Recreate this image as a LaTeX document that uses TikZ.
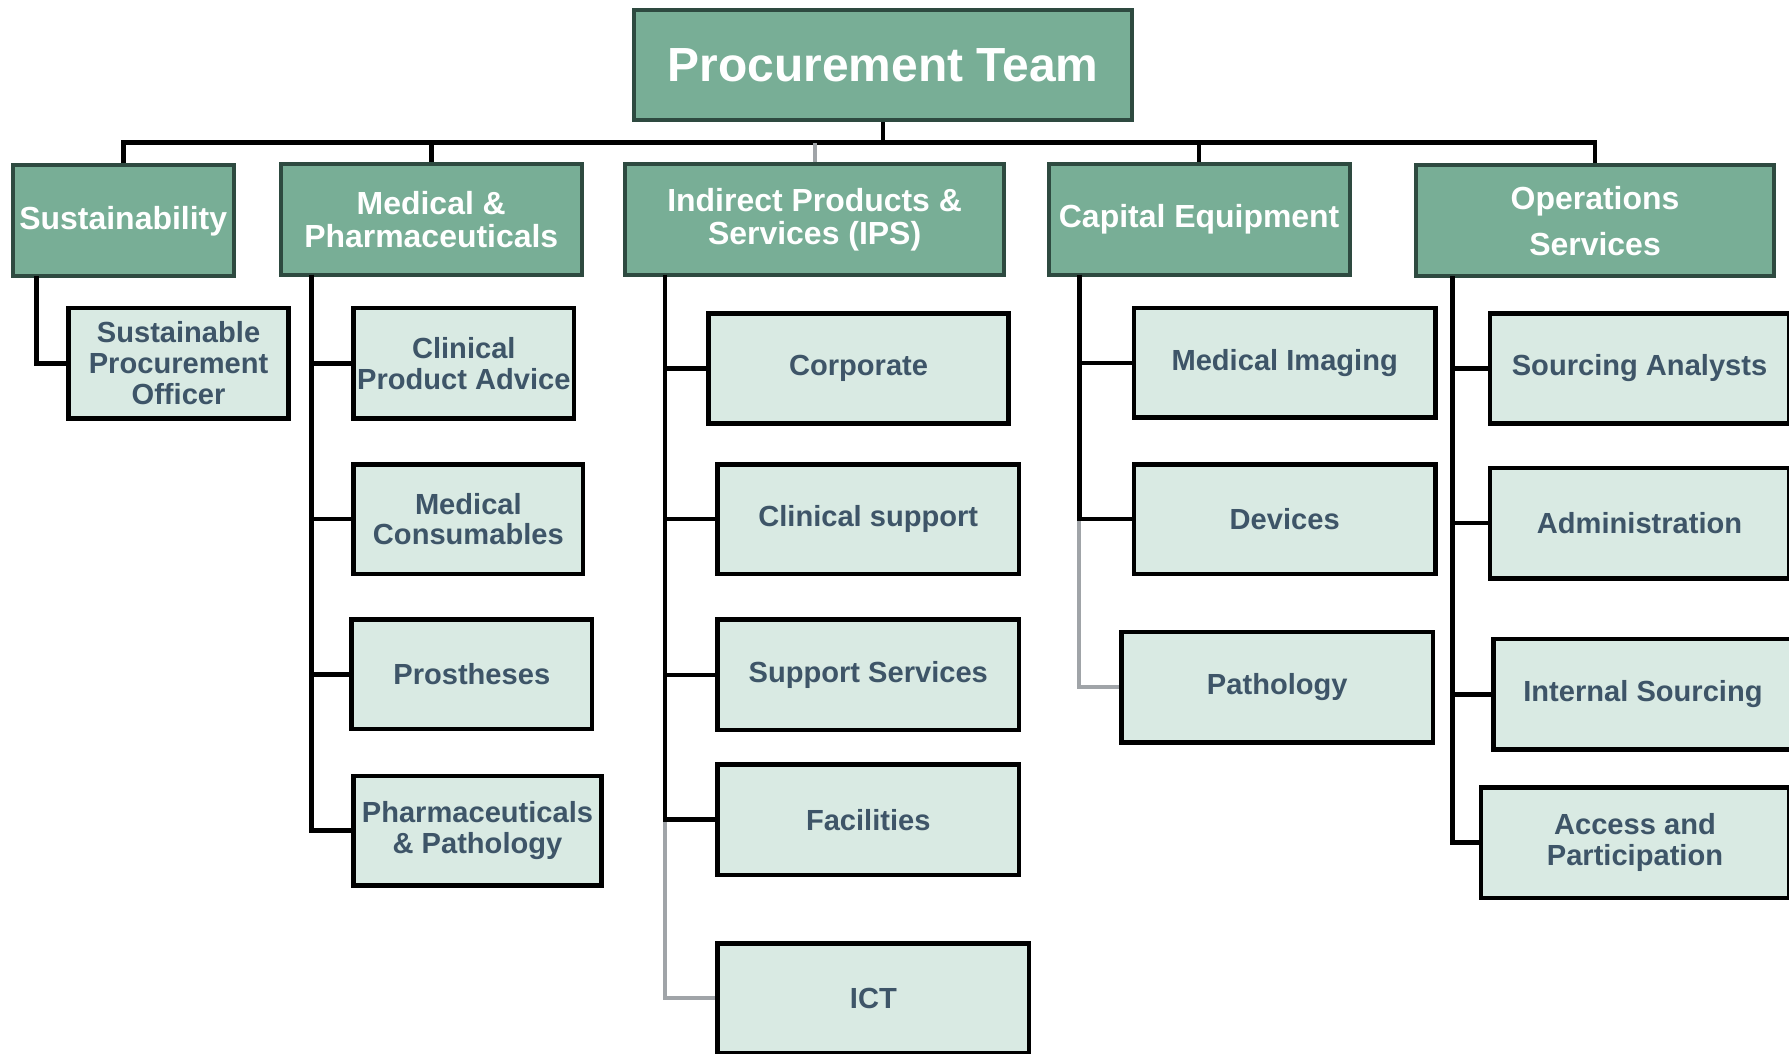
\documentclass[tikz,border=0pt]{standalone}
\usepackage{fontspec}
\setmainfont{Liberation Sans}
\usepackage{tikz}
\usetikzlibrary{positioning}

\definecolor{teamgreen}{HTML}{78AE96}
\definecolor{teamedge}{HTML}{2E4A40}
\definecolor{unitfill}{HTML}{D9EAE3}
\definecolor{unittext}{HTML}{3E5568}
\definecolor{linkgrey}{HTML}{A0A4A8}

\tikzset{
	teambox/.style={draw=teamedge, fill=teamgreen, line width=3.5pt, text=white, inner sep=0pt,
		font=\fontsize{42}{44}\selectfont\bfseries},
	headbox/.style={draw=teamedge, fill=teamgreen, line width=3.5pt, text=white, inner sep=0pt,
		align=center, font=\fontsize{28}{29}\selectfont\bfseries},
	unitbox/.style={draw=black, fill=unitfill, line width=4pt, text=unittext, inner sep=0pt,
		align=center, font=\fontsize{25.5}{27}\selectfont\bfseries},
	link/.style={draw=black, line width=4pt},
	greylink/.style={draw=linkgrey, line width=3.5pt}
}

\begin{document}
\begin{tikzpicture}[x=1pt, y=-1pt]
	\useasboundingbox (0,0) rectangle (1568,923);

	% top
	\node[teambox, minimum width=436, minimum height=96] (team) at (774,57) {Procurement Team};

	% second row
	\node[headbox, minimum width=194, minimum height=97] (sus) at (108,193.5) {Sustainability};
	\node[headbox, minimum width=264, minimum height=97] (med) at (378,192.5) {Medical \&\\Pharmaceuticals};
	\node[headbox, minimum width=332, minimum height=97] (ips) at (714,192.5) {Indirect Products \&\\Services (IPS)};
	\node[headbox, minimum width=264, minimum height=97] (cap) at (1051,192.5) {Capital Equipment};
	\node[headbox, minimum width=314, minimum height=97] (ops) at (1398,193.5) {Operations\\[11pt]Services};

	\coordinate (bus) at (774,125);
	\draw[link] (team.south) -- (bus);
	\draw[link] (sus.north) |- (bus) -| (ops.north);
	\draw[link, line width=5pt] (med.north |- bus) -- (cap.north |- bus);
	\draw[link] (med.north) -- (med.north |- bus);
	\draw[link] (cap.north) -- (cap.north |- bus);
	\draw[greylink] (ips.north) -- (ips.north |- bus);

	% Sustainability
	\node[unitbox, minimum width=193, minimum height=97] (spo) at (156.5,318.5) {Sustainable\\Procurement\\Officer};
	\coordinate (susS) at (32,242);
	\draw[link] (susS) |- (spo.west);

	% Medical & Pharmaceuticals
	\node[unitbox, minimum width=193, minimum height=97] (cpa) at (406.5,318.5) {Clinical\\Product Advice};
	\node[unitbox, minimum width=201, minimum height=96] (mcon) at (410.5,455) {Medical\\Consumables};
	\node[unitbox, minimum width=211, minimum height=96] (pros) at (413.5,591) {Prostheses};
	\node[unitbox, minimum width=217, minimum height=96] (pharm) at (418.5,728) {Pharmaceuticals\\\& Pathology};
	\coordinate (medS) at (273,241);
	\draw[link] (medS) |- (cpa.west);
	\draw[link] (medS) |- (mcon.west);
	\draw[link] (medS) |- (pros.west);
	\draw[link] (medS) |- (pharm.west);

	% IPS
	\node[unitbox, minimum width=263, minimum height=96] (corp) at (752.5,323) {Corporate};
	\node[unitbox, minimum width=264, minimum height=96] (clin) at (761,455) {Clinical support};
	\node[unitbox, minimum width=264, minimum height=97] (supp) at (761,591.5) {Support Services};
	\node[unitbox, minimum width=264, minimum height=97] (fac) at (761,718.5) {Facilities};
	\node[unitbox, minimum width=273, minimum height=96] (ict) at (765.5,875) {ICT};
	\coordinate (ipsS) at (583,241);
	\draw[greylink] (ipsS |- fac.west) |- (ict.west);
	\draw[link] (ipsS) |- (corp.west);
	\draw[link] (ipsS) |- (clin.west);
	\draw[link] (ipsS) |- (supp.west);
	\draw[link] (ipsS) |- (fac.west);

	% Capital Equipment
	\node[unitbox, minimum width=264, minimum height=96] (img) at (1126,318) {Medical Imaging};
	\node[unitbox, minimum width=264, minimum height=96] (dev) at (1126,455) {Devices};
	\node[unitbox, minimum width=273, minimum height=97] (path) at (1119.5,602.5) {Pathology};
	\coordinate (capS) at (946,241);
	\draw[greylink] (capS |- dev.west) |- (path.west);
	\draw[link] (capS) |- (img.west);
	\draw[link] (capS) |- (dev.west);

	% Operations Services
	\node[unitbox, minimum width=262, minimum height=96] (sour) at (1437,323) {Sourcing Analysts};
	\node[unitbox, minimum width=262, minimum height=97] (adm) at (1437,458.5) {Administration};
	\node[unitbox, minimum width=262, minimum height=97] (isrc) at (1440,608.5) {Internal Sourcing};
	\node[unitbox, minimum width=270, minimum height=97] (acc) at (1433,738.5) {Access and\\Participation};
	\coordinate (opsS) at (1273,242);
	\draw[link] (opsS) |- (sour.west);
	\draw[link] (opsS) |- (adm.west);
	\draw[link] (opsS) |- (isrc.west);
	\draw[link] (opsS) |- (acc.west);
\end{tikzpicture}
\end{document}
